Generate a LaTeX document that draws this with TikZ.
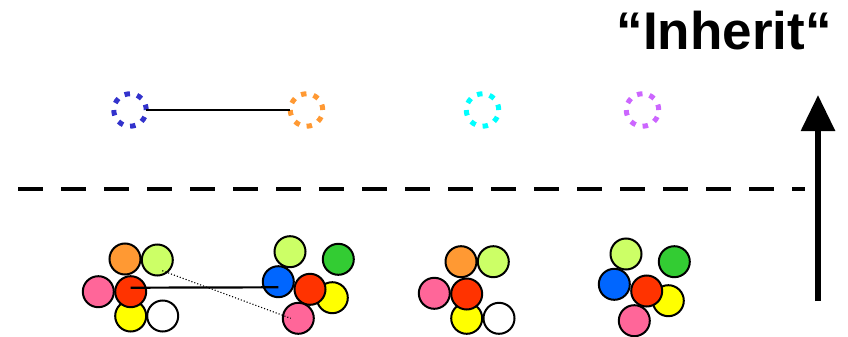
\documentclass[tikz,border=0pt]{standalone}
\usepackage{fontspec}
\setsansfont{Liberation Sans}
\usetikzlibrary{arrows.meta}
\definecolor{cOrange}{HTML}{FF9933}
\definecolor{cLime}{HTML}{CCFF66}
\definecolor{cPink}{HTML}{FF6699}
\definecolor{cRed}{HTML}{FF3300}
\definecolor{cYellow}{HTML}{FFFF00}
\definecolor{cBlue}{HTML}{0066FF}
\definecolor{cGreen}{HTML}{33CC33}
\definecolor{dBlue}{HTML}{3333CC}
\definecolor{dOrange}{HTML}{FF9933}
\definecolor{dCyan}{HTML}{00FFFF}
\definecolor{dPurple}{HTML}{CC66FF}
\begin{document}
\begin{tikzpicture}[x=1pt,y=-1pt,
  ball/.style={circle,draw=black,line width=2pt,minimum size=31pt,inner sep=0pt},
  ghost/.style={circle,draw=#1,line width=5pt,minimum size=32.5pt,inner sep=0pt,outer sep=0pt,
    dash pattern=on 5.5pt off 7.26pt},
  link/.style={draw=black,line width=2.2pt},
  weak/.style={draw=black,line width=1.1pt,dotted}]
\useasboundingbox (0,0) rectangle (848,337);
% top ghost circles
\node[ghost=dBlue] (g1) at (130,110) {};
\node[ghost=dOrange] (g2) at (306.5,110) {};
\node[ghost=dCyan] (g3) at (482.5,110) {};
\node[ghost=dPurple] (g4) at (642.5,110) {};
\draw[link] (g1) -- (g2);
% dashed separator
\coordinate (sL) at (18,189);
\coordinate (sR) at (805,189);
\draw[line width=4pt,dash pattern=on 25pt off 18pt] (sL) -- (sR);
% arrow
\coordinate (aB) at (818,301);
\coordinate (aT) at (818,95);
\draw[line width=6pt,-{Triangle[length=36pt,width=33pt]}] (aB) -- (aT);
% title
\node[anchor=base,inner sep=0pt,font=\sffamily\bfseries\fontsize{53}{60}\selectfont] (title) at (724,50) {“Inherit“};
% group 1
\node[ball,fill=cOrange] (o1) at (125,259) {};
\node[ball,fill=cLime] (l1) at (157.3,260) {};
\node[ball,fill=cPink] (p1) at (98.3,291.7) {};
\node[ball,fill=cYellow] (y1) at (130.7,316) {};
\node[ball,fill=white] (w1) at (162.7,316) {};
\node[ball,fill=cRed] (r1) at (130.7,291.7) {};
% group 2
\node[ball,fill=cLime] (l2) at (290,251.7) {};
\node[ball,fill=cGreen] (gr2) at (338.3,259.3) {};
\node[ball,fill=cBlue] (b2) at (278.3,281.7) {};
\node[ball,fill=cYellow] (y2) at (332.3,297.7) {};
\node[ball,fill=cRed] (r2) at (310,289.3) {};
\node[ball,fill=cPink] (p2) at (298.3,318.3) {};
% group 3
\node[ball,fill=cOrange] (o3) at (461,261.7) {};
\node[ball,fill=cLime] (l3) at (493.3,261.7) {};
\node[ball,fill=cPink] (p3) at (434.3,293.3) {};
\node[ball,fill=cYellow] (y3) at (466.7,318.3) {};
\node[ball,fill=white] (w3) at (499,318.3) {};
\node[ball,fill=cRed] (r3) at (466.7,294) {};
% group 4
\node[ball,fill=cLime] (l4) at (626,254) {};
\node[ball,fill=cGreen] (gr4) at (674.3,261.7) {};
\node[ball,fill=cBlue] (b4) at (614.3,284.3) {};
\node[ball,fill=cYellow] (y4) at (668.3,300.7) {};
\node[ball,fill=cRed] (r4) at (646.7,291) {};
\node[ball,fill=cPink] (p4) at (634.3,320.7) {};
% connectors
\draw[link] ([yshift=4pt]r1.center) -- ([yshift=-5.6pt]b2.center);
\draw[weak] ([xshift=5pt,yshift=-10.7pt]l1.center) -- ([xshift=-7.6pt]p2.center);
\end{tikzpicture}
\end{document}
